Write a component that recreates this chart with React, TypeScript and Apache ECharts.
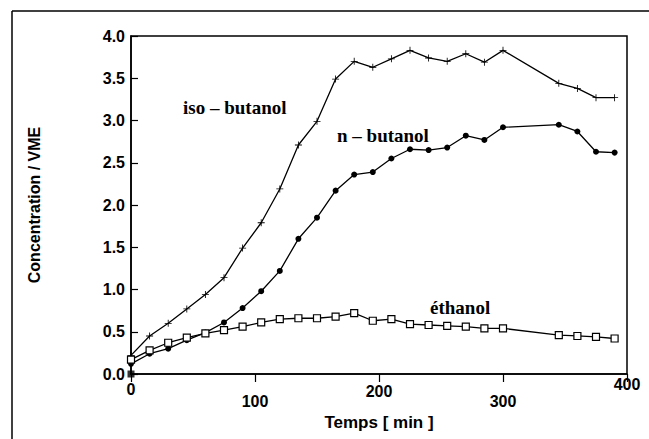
import React, { useEffect, useRef } from "react";
import * as echarts from "echarts";

const times = [0, 15, 30, 45, 60, 75, 90, 105, 120, 135, 150, 165, 180, 195, 210, 225, 240, 255, 270, 285, 300, 345, 360, 375, 390];
const isoButanol = [0.22, 0.45, 0.6, 0.77, 0.94, 1.14, 1.49, 1.79, 2.19, 2.71, 2.99, 3.49, 3.7, 3.63, 3.73, 3.83, 3.74, 3.7, 3.79, 3.69, 3.83, 3.44, 3.38, 3.27, 3.27];
const nButanol = [0.12, 0.24, 0.3, 0.4, 0.49, 0.61, 0.78, 0.98, 1.22, 1.6, 1.85, 2.17, 2.36, 2.39, 2.55, 2.66, 2.65, 2.68, 2.82, 2.77, 2.92, 2.95, 2.87, 2.63, 2.62];
const ethanol = [0.17, 0.28, 0.37, 0.43, 0.48, 0.52, 0.56, 0.61, 0.65, 0.66, 0.66, 0.68, 0.72, 0.63, 0.65, 0.59, 0.58, 0.57, 0.56, 0.54, 0.54, 0.46, 0.45, 0.44, 0.42];
const originPoint = [[0, 0]];
const xTicks = [0, 100, 200, 300, 400];
const yTicks = [0, 0.5, 1, 1.5, 2, 2.5, 3, 3.5, 4];
const seriesNames = ["iso – butanol", "n – butanol", "éthanol"];

const plus = "path://M4.4,0H5.6V4.4H10V5.6H5.6V10H4.4V5.6H0V4.4H4.4Z";
const SANS = "Liberation Sans";
const SERIF = "Liberation Serif";

export default function App() {
  const ref = useRef<HTMLDivElement>(null);
  useEffect(() => {
    if (!ref.current) return;
    const chart = echarts.init(ref.current, null, { renderer: "svg" });
    const pair = (arr: number[]) => times.map((t, i) => [t, arr[i]]);
    const dropPad: Record<number, number> = { 0: 5.5, 100: 17, 200: 7, 300: 17, 400: 0.5 };
    const rich: Record<string, any> = {};
    xTicks.forEach((t) => {
      rich["s" + t] = {
        padding: [dropPad[t] ?? 0, 0, 0, 0],
        fontFamily: SANS,
        fontWeight: "bold",
        fontSize: 16,
        color: "#000",
      };
    });
    const lineCommon = {
      type: "line",
      lineStyle: { color: "#000", width: 1.3 },
      itemStyle: { color: "#000" },
      z: 3,
    };
    const labelStyle = { fontFamily: SERIF, fontWeight: "bold", fontSize: 19, fill: "#000", align: "left", verticalAlign: "middle" };
    chart.setOption({
      animation: false,
      backgroundColor: "#fff",
      grid: {
        left: 131,
        right: 22,
        top: 36,
        bottom: 65,
        show: true,
        borderColor: "#000",
        borderWidth: 1.5,
        backgroundColor: "transparent",
      },
      xAxis: {
        type: "value",
        min: xTicks[0],
        max: xTicks[xTicks.length - 1],
        interval: 100,
        name: "Temps [ min ]",
        nameLocation: "middle",
        nameGap: 36,
        nameTextStyle: { fontFamily: SANS, fontWeight: "bold", fontSize: 17, color: "#000" },
        axisLine: { lineStyle: { color: "#000", width: 1.5 } },
        axisTick: { show: true, inside: false, length: 8, lineStyle: { color: "#000", width: 1.2 } },
        axisLabel: {
          margin: 2,
          formatter: (v: number) => `{s${v}|${v}}`,
          rich,
        },
        splitLine: { show: false },
      },
      yAxis: {
        type: "value",
        min: yTicks[0],
        max: yTicks[yTicks.length - 1],
        interval: 0.5,
        name: "Concentration / VME",
        nameLocation: "middle",
        nameGap: 89,
        nameTextStyle: { fontFamily: SANS, fontWeight: "bold", fontSize: 16, color: "#000" },
        axisLine: { show: true, lineStyle: { color: "#000", width: 1.5 } },
        axisTick: { show: true, inside: true, length: 7, lineStyle: { color: "#000", width: 1.2 } },
        axisLabel: {
          margin: 6,
          formatter: (v: number) => v.toFixed(1),
          fontFamily: SANS,
          fontWeight: "bold",
          fontSize: 16,
          color: "#000",
        },
        splitLine: { show: false },
      },
      series: [
        { ...lineCommon, name: seriesNames[0], data: pair(isoButanol), symbol: plus, symbolSize: 7 },
        { ...lineCommon, name: seriesNames[1], data: pair(nButanol), symbol: "circle", symbolSize: 6 },
        {
          ...lineCommon,
          name: seriesNames[2],
          data: pair(ethanol),
          symbol: "rect",
          symbolSize: 7,
          itemStyle: { color: "#fff", borderColor: "#000", borderWidth: 1.2 },
        },
        {
          type: "scatter",
          name: "origin",
          data: originPoint,
          symbol: "rect",
          symbolSize: 7,
          itemStyle: { color: "#000" },
          z: 4,
        },
      ],
      graphic: [
        { type: "line", shape: { x1: 12, y1: 11, x2: 12, y2: 439 }, style: { stroke: "#000", lineWidth: 1.5 } },
        { type: "line", shape: { x1: 12, y1: 11, x2: 649, y2: 11 }, style: { stroke: "#000", lineWidth: 1.5 } },
        { type: "text", x: 183, y: 107, style: { ...labelStyle, text: seriesNames[0] } },
        { type: "text", x: 337, y: 135, style: { ...labelStyle, text: seriesNames[1] } },
        { type: "text", x: 430, y: 307, style: { ...labelStyle, text: seriesNames[2] } },
      ],
    });
    return () => chart.dispose();
  }, []);
  return <div ref={ref} style={{ width: 649, height: 439, position: "absolute", left: 0, top: 0 }} />;
}
